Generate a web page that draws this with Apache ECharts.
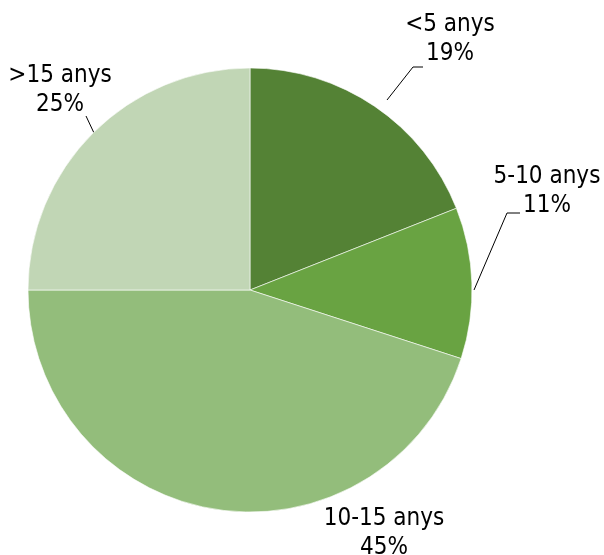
<!DOCTYPE html>
<html>
<head>
<meta charset="utf-8">
<script src="https://cdn.jsdelivr.net/npm/echarts@6/dist/echarts.min.js"></script>
<style>
  html, body { margin: 0; padding: 0; background: #fff; }
  #chart { width: 604px; height: 555px; }
</style>
</head>
<body>
<div id="chart"></div>
<script>
// Age groups and their share (%)
const categories = ['<5 anys', '5-10 anys', '10-15 anys', '>15 anys'];
const shares = [19, 11, 45, 25];
const colors = ['#548235', '#69a342', '#93bd7b', '#c1d6b5'];

// Where each label sits and how its leader line runs, keyed by category
const labelSpots = {
  '<5 anys':    { x: 450, y: 39,  line: [[387, 100], [413, 67], [423, 67]] },
  '5-10 anys':  { x: 547, y: 191, line: [[474, 290], [507, 213], [520, 213]] },
  '>15 anys':   { x: 60,  y: 90,  line: [[94, 133], [86, 116]] },
  '10-15 anys': { x: 384, y: 533, line: null }
};

const chart = echarts.init(document.getElementById('chart'), null, { renderer: 'canvas' });

chart.setOption({
  animation: false,
  series: [{
    type: 'pie',
    center: [250, 290],
    radius: [0, 222],
    startAngle: 90,
    clockwise: true,
    data: categories.map((name, i) => ({
      name,
      value: shares[i],
      itemStyle: { color: colors[i] },
      labelLine: { show: labelSpots[name].line !== null }
    })),
    itemStyle: { borderColor: 'rgba(255,255,255,0.6)', borderWidth: 1 },
    label: {
      show: true,
      formatter: p => p.name + '\n' + p.value + '%',
      fontFamily: 'DejaVu Sans Condensed',
      fontSize: 24,
      lineHeight: 29,
      color: '#000',
      align: 'center',
      overflow: 'none'
    },
    labelLine: {
      show: true,
      lineStyle: { color: '#000', width: 1 }
    },
    labelLayout: p => {
      const name = p.text.split('\n')[0];
      const s = labelSpots[name];
      const out = { x: s.x, y: s.y, align: 'center', verticalAlign: 'middle', width: 200 };
      if (s.line) out.labelLinePoints = s.line;
      return out;
    }
  }]
});
</script>
</body>
</html>
